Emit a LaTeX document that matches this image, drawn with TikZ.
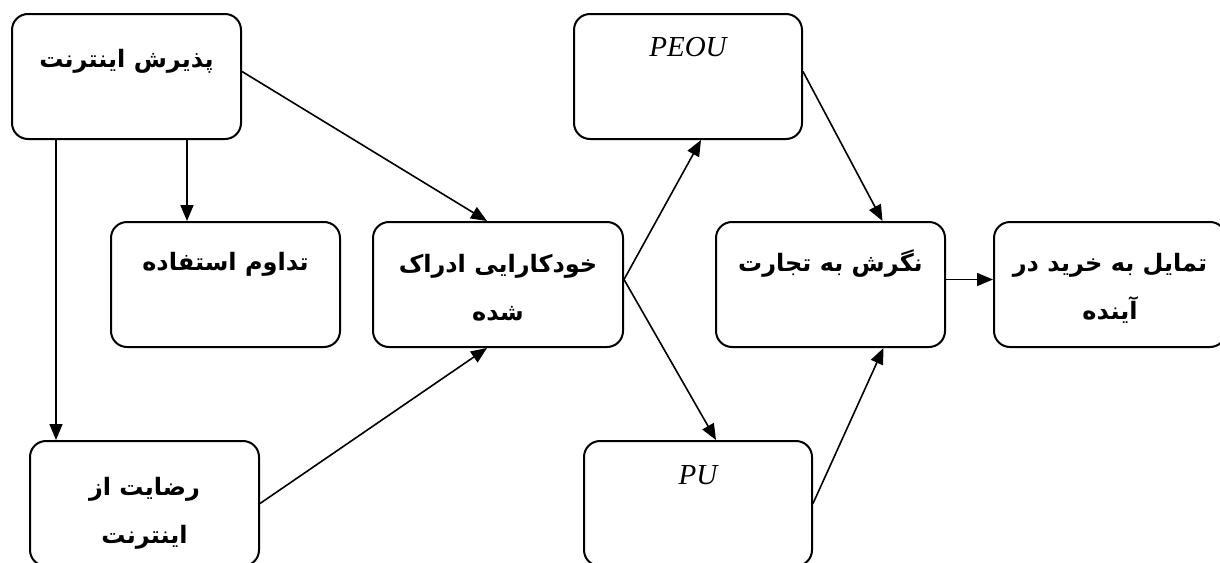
\documentclass[tikz,border=0pt]{standalone}
\usepackage{fontspec}
\setmainfont{Liberation Serif}
\newfontfamily\fa[Script=Arabic]{DejaVu Sans}
\TeXXeTstate=1
\usetikzlibrary{arrows.meta}
\tikzset{
  box/.style={draw, line width=2pt, rounded corners=16pt, rectangle, minimum height=125pt, anchor=north west, inner sep=0pt},
  fatext/.style={font=\fa\bfseries\fontsize{24}{48}\selectfont, align=center, inner sep=0pt, anchor=center},
  latext/.style={font=\itshape\fontsize{29}{34}\selectfont, inner sep=0pt, anchor=center},
  arr/.style={line width=1.6pt, -{Triangle[length=16pt,width=13pt]}}
}
\begin{document}
\begin{tikzpicture}[x=1pt,y=-1pt]
\useasboundingbox (0,0) rectangle (1220,562);
\clip (0,0) rectangle (1220,562);
% boxes
\node[box, minimum width=229pt] (b1) at (11,13) {};
\node[box, minimum width=229pt] (tad) at (110,221) {};
\node[box, minimum width=250pt] (khod) at (372,221) {};
\node[box, minimum width=228pt] (peou) at (573,13) {};
\node[box, minimum width=229pt] (negar) at (715,221) {};
\node[box, minimum width=232pt] (tam) at (993,221) {};
\node[box, minimum width=229pt] (rez) at (29,440) {};
\node[box, minimum width=228pt] (pu) at (583,440) {};
% texts
\node[fatext] (t1) at ([yshift=-48pt]b1.north) {\beginR پذیرش اینترنت\endR};
\node[fatext] (t2) at ([yshift=-43pt]tad.north) {\beginR تداوم استفاده\endR};
\node[fatext] (t3) at ([yshift=-67pt]khod.north) {\beginR خودکارایی ادراک\endR\\\beginR شده\endR};
\node[latext] (t4) at ([yshift=-34pt]peou.north) {PEOU};
\node[fatext] (t5) at ([yshift=-43pt]negar.north) {\beginR نگرش به تجارت\endR};
\node[fatext] (t6) at ([yshift=-67pt]tam.north) {\beginR تمایل به خرید در\endR\\\beginR آینده\endR};
\node[fatext] (t7) at ([yshift=-73pt]rez.north) {\beginR رضایت از\endR\\\beginR اینترنت\endR};
\node[latext] (t8) at ([yshift=-35pt]pu.north) {PU};
% connectors
\draw[arr] ([xshift=45pt]b1.south west) -- ([xshift=45pt]b1.south west |- rez.north);
\draw[arr] ([xshift=176pt]b1.south west) -- ([xshift=176pt]b1.south west |- tad.north);
\draw[arr] ([yshift=5pt]b1.east) -- ([xshift=-11pt]khod.north);
\draw[arr] ([yshift=5pt]khod.east) -- ([xshift=13pt]peou.south);
\draw[arr] ([yshift=5pt]khod.east) -- ([xshift=18pt]pu.north);
\draw[arr] ([yshift=5pt]peou.east) -- ([xshift=52pt]negar.north);
\draw[arr] ([yshift=5pt]negar.east) -- ([yshift=5pt]tam.west);
\draw[arr] (pu.east) -- ([xshift=53pt]negar.south);
\draw[arr] (rez.east) -- ([xshift=-11pt]khod.south);
\end{tikzpicture}
\end{document}
